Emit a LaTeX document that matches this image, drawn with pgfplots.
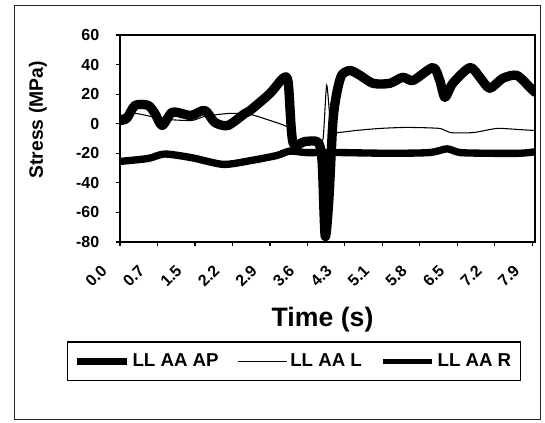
\documentclass[border=0pt]{standalone}
\usepackage{pgfplots}
\pgfplotsset{compat=1.18}
\usepackage{fontspec}
\setmainfont{Liberation Sans}

\begin{document}
\begin{tikzpicture}
% page = 545 x 423 px at 0.75pt per px, origin at the plot's lower left corner
\path[use as bounding box] (-90pt,-135.75pt) rectangle (318.75pt,181.5pt);
\draw[line width=0.6pt, black!85] (-79.5pt,-132.75pt) rectangle (315pt,177.75pt);
\begin{axis}[
    at={(0pt,0pt)}, anchor=south west,
    scale only axis,
    width=311.25pt, height=155.25pt,
    xmin=0, xmax=7.97,
    ymin=-80, ymax=60,
    ytick={-80,-60,...,60},
    xtick={0,0.72,1.44,2.16,2.88,3.6,4.32,5.04,5.76,6.48,7.2,7.92},
    xticklabels={0.0,0.7,1.5,2.2,2.9,3.6,4.3,5.1,5.8,6.5,7.2,7.9},
    axis line style={line width=1pt},
    tick align=outside,
    major tick length=3pt,
    tick style={black, line width=0.8pt},
    xtick pos=bottom, ytick pos=left,
    /pgf/number format/assume math mode=true,
    tick label style={font=\bfseries\fontsize{12}{14}\selectfont},
    yticklabel style={xshift=-9pt},
    xticklabel style={xshift=-15pt, yshift=-8.5pt, rotate=45, anchor=north east},
    ylabel={Stress (MPa)},
    ylabel style={font=\bfseries\fontsize{14.5}{17}\selectfont,
        at={(axis description cs:-0.198,0.59)}, anchor=center},
    xlabel={Time (s)},
    xlabel style={font=\bfseries\fontsize{20}{24}\selectfont,
        at={(axis description cs:0.488,-0.377)}, anchor=center},
    legend columns=3,
    legend image code/.code={\draw[#1] (0pt,0pt) -- (37pt,0pt);},
    legend style={at={(axis description cs:0.419,-0.577)}, anchor=center,
        draw=black, line width=0.8pt,
        font=\bfseries\fontsize{14}{16}\selectfont,
        inner xsep=5pt, inner ysep=7pt,
        /tikz/every even column/.append style={column sep=12pt}},
]

% LL AA AP
\addplot[black, line width=7pt, line join=round, line cap=round, smooth, tension=0.45,
    legend image post style={line width=5pt, line cap=butt, sharp plot}] coordinates {
(0.00,2.2) (0.13,3.6) (0.29,12.4) (0.54,12.4) (0.67,7) (0.81,-1.2)
(1.00,7.7) (1.25,6.3) (1.38,5.6) (1.63,9.0) (1.82,0.9) (2.07,-1.2)
(2.40,7.0) (2.50,9.0) (2.88,20.5) (3.13,30.7) (3.23,28) (3.32,-12.5)
(3.55,-12) (3.80,-12.5) (3.88,-25) (3.94,-76) (4.01,-52) (4.09,2)
(4.17,22) (4.26,33) (4.42,36) (4.61,32.7) (4.86,27.3) (5.18,27.3)
(5.43,31.4) (5.63,29.3) (6.01,38) (6.14,29.3) (6.24,17.8) (6.39,27.3)
(6.72,38) (6.91,31.4) (7.10,24) (7.35,30.7) (7.62,32.7) (7.87,24.6)
(7.97,21.2)};

% LL AA L
\addplot[black, line width=0.8pt, smooth, tension=0.4,
    legend image post style={line width=0.8pt, sharp plot}] coordinates {
(0.00,5.6) (0.29,7) (0.58,5) (0.86,3) (1.38,2.2) (1.63,5) (2.11,7)
(2.50,6.3) (2.88,2.2) (3.23,-2.5) (3.38,-11.3) (3.80,-12) (3.90,-10)
(3.97,26) (4.05,-3) (4.15,-6) (4.55,-4.5) (4.99,-3.2) (5.51,-2.5)
(6.14,-3.2) (6.34,-6) (6.78,-6) (7.24,-3.2) (7.68,-4) (7.97,-4.6)};

% LL AA R
\addplot[black, line width=5.5pt, line join=round, line cap=round, smooth, tension=0.45,
    legend image post style={line width=3.8pt, line cap=butt, sharp plot}] coordinates {
(0.00,-25.5) (0.54,-23.5) (0.86,-20.5) (1.38,-23) (1.98,-27.5)
(2.50,-25) (3.01,-21.5) (3.26,-18.5) (3.55,-19.5) (3.84,-19.5)
(4.22,-19.5) (5.18,-20) (5.95,-19.5) (6.28,-17) (6.53,-19.5)
(7.10,-20) (7.68,-20) (7.97,-19)};

\legend{LL AA AP, LL AA L, LL AA R}
\end{axis}
\end{tikzpicture}
\end{document}
